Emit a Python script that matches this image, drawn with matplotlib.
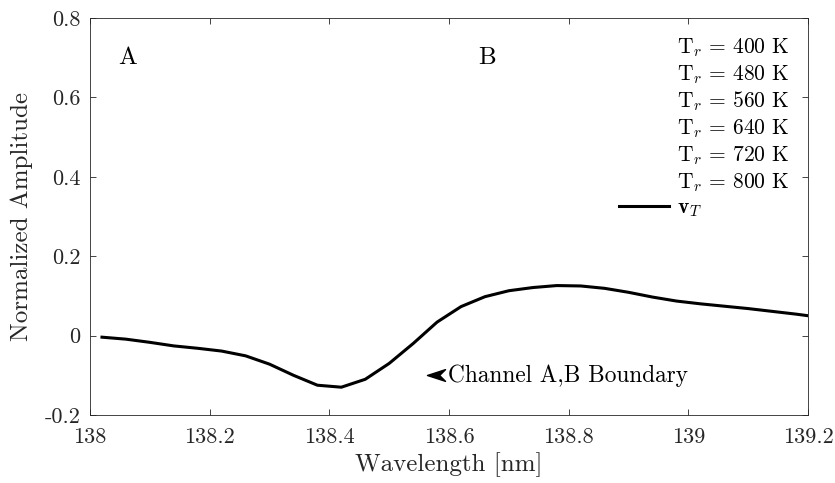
import matplotlib
matplotlib.use("Agg")
import matplotlib.pyplot as plt
from matplotlib.lines import Line2D
from matplotlib.path import Path

plt.rcParams["font.family"] = "serif"
plt.rcParams["font.serif"] = ["cmr10", "DejaVu Serif"]
plt.rcParams["mathtext.fontset"] = "cm"
plt.rcParams["axes.unicode_minus"] = False

# data
wavelength = [138.02, 138.06, 138.10, 138.14, 138.18, 138.22, 138.26, 138.30,
              138.34, 138.38, 138.42, 138.46, 138.50, 138.54, 138.58, 138.62,
              138.66, 138.70, 138.74, 138.78, 138.82, 138.86, 138.90, 138.94,
              138.98, 139.02, 139.06, 139.10, 139.14, 139.18, 139.22]
amplitude = [-0.004, -0.009, -0.017, -0.026, -0.032, -0.039, -0.051, -0.072,
             -0.100, -0.125, -0.130, -0.110, -0.070, -0.020, 0.034, 0.073,
             0.098, 0.113, 0.121, 0.126, 0.125, 0.119, 0.109, 0.097,
             0.087, 0.080, 0.074, 0.068, 0.061, 0.054, 0.046]
temps = [400, 480, 560, 640, 720, 800]
xticks = [138, 138.2, 138.4, 138.6, 138.8, 139, 139.2]
xticklabels = ["138", "138.2", "138.4", "138.6", "138.8", "139", "139.2"]
yticks = [-0.2, 0, 0.2, 0.4, 0.6, 0.8]
yticklabels = ["-0.2", "0", "0.2", "0.4", "0.6", "0.8"]

fig = plt.figure(figsize=(8.35, 4.83), dpi=100)
ax = fig.add_axes([0.1078, 0.1408, 0.860, 0.822])

ax.plot(wavelength, amplitude, color="black", lw=2.2)

ax.set_xlim(138, 139.2)
ax.set_ylim(-0.2, 0.8)
ax.set_xticks(xticks)
ax.set_xticklabels(xticklabels)
ax.set_yticks(yticks)
ax.set_yticklabels(yticklabels)
ax.tick_params(direction="in", top=True, right=True, length=4, width=0.6,
               labelsize=16, colors="#262626")
ax.tick_params(axis="x", pad=9)
ax.tick_params(axis="y", pad=7)
for s in ax.spines.values():
    s.set_linewidth(0.6)
    s.set_color("#262626")

ax.set_xlabel("Wavelength [nm]", fontsize=18, color="#262626", labelpad=4)
ax.set_ylabel("Normalized Amplitude", fontsize=18, color="#262626", labelpad=8)

ax.text(138.063, 0.70, "A", fontsize=18, ha="center", va="center")
ax.text(138.663, 0.70, "B", fontsize=18, ha="center", va="center")

# left pointing arrowhead + label
head = Path([(-1, 0), (1, 0.65), (0.35, 0), (1, -0.65), (-1, 0)],
            [Path.MOVETO, Path.LINETO, Path.LINETO, Path.LINETO, Path.CLOSEPOLY])
ax.plot([138.578], [-0.10], marker=head, markersize=13, color="black", ls="none")
ax.text(138.599, -0.10, "Channel A,B Boundary", fontsize=16.8, va="center", ha="left")

handles = [Line2D([], [], color="none") for _ in temps]
labels = [r"$\mathrm{T}_r\,=\,%d$ K" % t for t in temps]
handles.append(Line2D([], [], color="black", lw=2.2))
labels.append(r"$\mathbf{v}_T$")
ax.legend(handles, labels, loc="upper right", frameon=False, fontsize=15.5,
          handlelength=2.3, handletextpad=0.4, labelspacing=0.19,
          borderaxespad=0.45)

fig.savefig("out.png", dpi=100)
